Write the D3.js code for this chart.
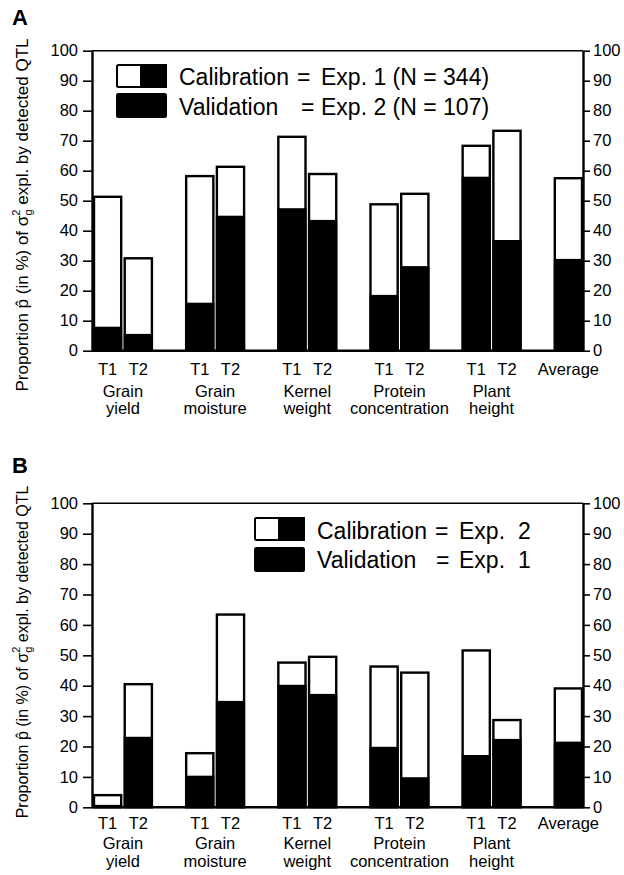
<!DOCTYPE html>
<html>
<head>
<meta charset="utf-8">
<script src="https://cdnjs.cloudflare.com/ajax/libs/d3/7.8.5/d3.min.js"></script>
<style>
  body { margin: 0; background: #fff; }
  svg { font-family: "Liberation Sans", Arial, sans-serif; }
</style>
</head>
<body>
<div id="chart"></div>
<script>
// data
var traits = [["Grain", "yield"], ["Grain", "moisture"], ["Kernel", "weight"],
              ["Protein", "concentration"], ["Plant", "height"]];
var treatments = ["T1", "T2"];
var yTicks = [0, 10, 20, 30, 40, 50, 60, 70, 80, 90, 100];

// panel A: calibration = Exp. 1, validation = Exp. 2
var calA = [51.3, 30.8, 58.2, 61.3, 71.3, 58.9, 48.8, 52.3, 68.3, 73.3];
var valA = [8.0, 5.6, 16.0, 45.0, 47.5, 43.6, 18.6, 28.2, 58.0, 36.9];
var avgA = [57.5, 30.6];

// panel B: calibration = Exp. 2, validation = Exp. 1
var calB = [4.0, 40.5, 17.8, 63.4, 47.6, 49.5, 46.3, 44.3, 51.6, 28.7];
var valB = [0.8, 23.2, 10.4, 35.0, 40.3, 37.3, 19.9, 9.9, 17.2, 22.5];
var avgB = [39.1, 21.6];

var svgWidth = 624, svgHeight = 875;
var svg = d3.select("#chart").append("svg")
  .attr("width", svgWidth)
  .attr("height", svgHeight);

var left = 92, right = 583;

// 16 slots: pairs at 3i, 3i+1, gap, average in last slot
var x = d3.scaleBand()
  .domain(d3.range(16))
  .range([left + 1, right])
  .paddingInner(0.05)
  .paddingOuter(0);

function buildBars(cal, val, avg) {
  var bars = [];
  traits.forEach(function(t, i) {
    treatments.forEach(function(tr, j) {
      bars.push({ slot: 3 * i + j, label: tr, cal: cal[2 * i + j], val: val[2 * i + j] });
    });
  });
  bars.push({ slot: 15, label: "Average", cal: avg[0], val: avg[1] });
  return bars;
}

function drawPanel(p) {
  var y = d3.scaleLinear().domain([0, 100]).range([p.y0, p.y100]);
  var g = svg.append("g");
  var bars = buildBars(p.cal, p.val, p.avg);

  // panel letter
  g.append("text")
    .attr("x", 12).attr("y", p.letterY)
    .attr("font-size", "22px").attr("font-weight", "bold")
    .text(p.letter);

  // y label
  var yl = g.append("text")
    .attr("transform", "translate(28," + p.labelCenter + ") rotate(-90)")
    .attr("text-anchor", "middle")
    .attr("font-size", p.labelSize + "px");
  yl.append("tspan").text("Proportion p\u0302 (in %) of \u03c3");
  yl.append("tspan").attr("font-size", "11px").attr("dy", -8).text("2");
  yl.append("tspan").attr("font-size", "11px").attr("dx", -6).attr("dy", 12).text("g");
  yl.append("tspan").attr("dy", -4).text(" expl. by detected QTL");

  // top frame line
  g.append("line")
    .attr("x1", left).attr("x2", right)
    .attr("y1", y(100)).attr("y2", y(100))
    .attr("stroke", "#000").attr("stroke-width", 1.6);

  // bars: full = calibration (white), black = validation
  var bg = g.selectAll(".bar").data(bars).enter().append("g").attr("class", "bar");
  bg.append("rect")
    .attr("x", d => x(d.slot) + 1)
    .attr("width", x.bandwidth() - 2)
    .attr("y", d => y(d.cal))
    .attr("height", d => y(0) - y(d.cal))
    .attr("fill", "#fff")
    .attr("stroke", "#000")
    .attr("stroke-width", 2.4);
  bg.append("rect")
    .attr("x", d => x(d.slot))
    .attr("width", x.bandwidth())
    .attr("y", d => y(d.val))
    .attr("height", d => y(0) - y(d.val))
    .attr("fill", "#000");

  // axes
  var leftAxis = d3.axisLeft(y).tickValues(yTicks).tickSize(9).tickSizeOuter(0).tickPadding(5);
  var rightAxis = d3.axisRight(y).tickValues(yTicks).tickSize(7).tickSizeOuter(0).tickPadding(3);
  var bottomAxis = d3.axisBottom(x)
    .tickValues(bars.map(d => d.slot))
    .tickFormat(s => bars.find(d => d.slot === s).label)
    .tickSize(0).tickSizeOuter(0);

  [g.append("g").attr("transform", "translate(" + left + ",0)").call(leftAxis),
   g.append("g").attr("transform", "translate(" + right + ",0)").call(rightAxis)]
    .forEach(function(a) {
      a.attr("font-size", "16.5px").attr("font-family", null);
      a.select(".domain").attr("stroke-width", 2.4);
      a.selectAll(".tick line").attr("stroke-width", 1.6);
      a.selectAll(".tick text").attr("fill", "#000");
    });

  var xa = g.append("g").attr("transform", "translate(0," + y(0) + ")").call(bottomAxis);
  xa.attr("font-size", "16.5px").attr("font-family", null);
  xa.select(".domain").attr("d", "M" + left + ",0H" + right).attr("stroke-width", 2.4);
  xa.selectAll(".tick text").attr("dy", null).attr("y", p.lines[0]).attr("fill", "#000");

  // trait names under each pair
  traits.forEach(function(t, i) {
    var cx = (x(3 * i) + x(3 * i + 1) + x.bandwidth()) / 2;
    g.append("text")
      .attr("text-anchor", "middle")
      .attr("font-size", "16.5px")
      .selectAll("tspan").data(t).enter().append("tspan")
      .attr("x", cx)
      .attr("y", (d, k) => p.y0 + p.lines[k + 1])
      .text(d => d);
  });

  // legend
  var lg = g.append("g").attr("font-size", "23px");
  lg.append("rect").attr("x", p.legX).attr("y", p.legY[0]).attr("width", 49).attr("height", 22)
    .attr("rx", 1.5).attr("fill", "#fff").attr("stroke", "#000").attr("stroke-width", 2);
  lg.append("rect").attr("x", p.legX + 24).attr("y", p.legY[0]).attr("width", 25).attr("height", 22)
    .attr("fill", "#000").attr("stroke", "#000").attr("stroke-width", 2);
  lg.append("rect").attr("x", p.legX).attr("y", p.legY[1]).attr("width", 49).attr("height", 23)
    .attr("rx", 1.5).attr("fill", "#000").attr("stroke", "#000").attr("stroke-width", 2);

  var names = ["Calibration", "Validation"];
  names.forEach(function(n, k) {
    var by = p.legBase[k];
    lg.append("text").attr("x", p.legX + 62).attr("y", by).text(n);
    lg.append("text").attr("x", p.eqX[k]).attr("y", by).text("=");
    lg.append("text").attr("x", p.expX).attr("y", by).text(p.expText[k]);
    if (p.expNum) lg.append("text").attr("x", p.numX).attr("y", by).text(p.expNum[k]);
  });
}

drawPanel({
  letter: "A", letterY: 25,
  y0: 350.7, y100: 50.7,
  cal: calA, val: valA, avg: avgA,
  labelCenter: 215, labelSize: 17,
  lines: [24.5, 46, 63.5],
  legX: 117, legY: [65, 94], legBase: [85, 115],
  eqX: [297, 301], expX: 321,
  expText: ["Exp. 1 (N = 344)", "Exp. 2 (N = 107)"]
});

drawPanel({
  letter: "B", letterY: 473,
  y0: 807.3, y100: 503.3,
  cal: calB, val: valB, avg: avgB,
  labelCenter: 652, labelSize: 16,
  lines: [22, 42, 60],
  legX: 255, legY: [518, 548], legBase: [539, 568],
  eqX: [435, 436], expX: 459, numX: 518,
  expText: ["Exp.", "Exp."], expNum: ["2", "1"]
});
</script>
</body>
</html>
